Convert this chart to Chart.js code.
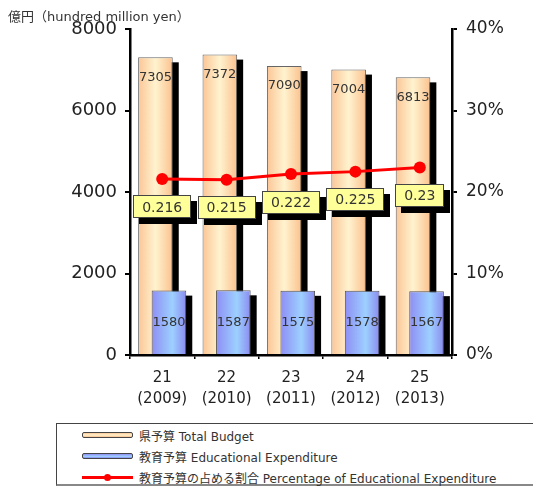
<!DOCTYPE html>
<html><head><meta charset="utf-8">
<script src="https://cdn.jsdelivr.net/npm/chart.js@4.4.1/dist/chart.umd.min.js"></script>
<style>
html,body{margin:0;padding:0;background:#fff;overflow:hidden;width:533px;height:488px;}
#wrap{position:relative;width:533px;height:488px;overflow:hidden;}
#c{position:absolute;left:0;top:0;}
#unit{position:absolute;left:8px;top:6px;font:13px 'DejaVu Sans','Noto Sans CJK JP',sans-serif;color:#333;white-space:nowrap;}
#legend{position:absolute;left:56px;top:423px;width:500px;height:60px;border:1px solid #444;border-bottom:2px solid #888;}
.row{position:absolute;left:25px;height:16px;display:flex;align-items:center;font:12px 'DejaVu Sans','Noto Sans CJK JP',sans-serif;color:#333;white-space:nowrap;}
.sw{width:51px;height:6px;border:1px solid #444;border-radius:2px;margin-right:6px;box-sizing:border-box;}
.lsw{position:relative;width:51px;height:16px;margin-right:6px;}
.lsw .ln{position:absolute;left:0;right:0;top:7px;height:3px;background:#ff0000;}
.lsw .dt{position:absolute;left:22px;top:5px;width:7px;height:7px;border-radius:50%;background:#ff0000;}
</style></head>
<body><div id="wrap">
<canvas id="c" width="533" height="420"></canvas>
<div id="unit">億円（hundred million yen）</div>
<div id="legend"></div>
</div>
<script>
const categories = [['21','(2009)'],['22','(2010)'],['23','(2011)'],['24','(2012)'],['25','(2013)']];
const totalBudget = [7305, 7372, 7090, 7004, 6813];
const eduExpenditure = [1580, 1587, 1575, 1578, 1567];
const eduShare = [0.216, 0.215, 0.222, 0.225, 0.23];
const seriesNames = ['県予算 Total Budget', '教育予算 Educational Expenditure', '教育予算の占める割合 Percentage of Educational Expenditure'];

const fam = "'DejaVu Sans','Noto Sans CJK JP',sans-serif";
const orangeStops = [[0,'#fbc596'],[0.5,'#fff3cf'],[1,'#fbc18e']];
const blueStops = [[0,'#8e8ef4'],[0.6,'#9dd0ff'],[1,'#8b8bf0']];

// legend (HTML)
(function(){
  const lg = document.getElementById('legend');
  const tops = [3, 24, 45];
  seriesNames.forEach((n, i) => {
    const r = document.createElement('div');
    r.className = 'row'; r.style.top = tops[i] + 'px';
    let sw;
    if (i < 2) {
      sw = document.createElement('div'); sw.className = 'sw';
      const st = i === 0 ? orangeStops : blueStops;
      sw.style.background = 'linear-gradient(to bottom,' + st.map(s => s[1] + ' ' + (s[0]*100) + '%').join(',') + ')';
    } else {
      sw = document.createElement('div'); sw.className = 'lsw';
      sw.innerHTML = '<div class="ln"></div><div class="dt"></div>';
    }
    r.appendChild(sw);
    const t = document.createElement('span'); t.textContent = n; r.appendChild(t);
    lg.appendChild(r);
  });
})();

function grad(ctx, l, r, stops){
  const g = ctx.createLinearGradient(l, 0, r, 0);
  stops.forEach(s => g.addColorStop(s[0], s[1]));
  return g;
}

const barFx = {
  id: 'barFx',
  beforeDatasetDraw(chart, args){
    if (args.index < 2) return false;
  },
  beforeDatasetsDraw(chart){
    const ctx = chart.ctx, a = chart.chartArea;
    [0, 1].forEach(di => {
      const meta = chart.getDatasetMeta(di);
      const stops = di === 0 ? orangeStops : blueStops;
      meta.data.forEach(el => {
        const p = el.getProps(['x','y','base','width'], true);
        const o = el.options;
        const l = p.x - p.width / 2;
        ctx.save();
        ctx.beginPath(); ctx.rect(a.left, a.top, a.right - a.left, a.bottom - a.top); ctx.clip();
        ctx.fillStyle = '#000';
        ctx.fillRect(l + 6, p.y + 5, p.width, p.base - p.y);
        el.options = Object.assign({}, o, {backgroundColor: grad(ctx, l, l + p.width, stops)});
        el.draw(ctx);
        el.options = o;
        ctx.restore();
      });
    });
  },
  afterDatasetsDraw(chart){
    const ctx = chart.ctx;
    ctx.save();
    ctx.textAlign = 'center'; ctx.textBaseline = 'middle';
    ctx.font = '13px ' + fam; ctx.fillStyle = '#333';
    chart.getDatasetMeta(0).data.forEach((el, i) => {
      ctx.fillText(String(totalBudget[i]), el.x, el.y + 20);
    });
    chart.getDatasetMeta(1).data.forEach((el, i) => {
      ctx.fillText(String(eduExpenditure[i]), el.x, (el.y + el.base) / 2);
    });
    ctx.font = '14px ' + fam;
    chart.getDatasetMeta(2).data.forEach((el, i) => {
      const txt = String(eduShare[i]);
      const w = Math.round(ctx.measureText(txt).width + 18), h = 23;
      const cx = el.x, cy = el.y + 28;
      const l = Math.round(cx - w/2), t = Math.round(cy - h/2);
      ctx.fillStyle = '#000'; ctx.fillRect(l + 6, t + 6, w, h);
      ctx.fillStyle = '#ffff99'; ctx.fillRect(l, t, w, h);
      ctx.strokeStyle = '#444'; ctx.lineWidth = 1; ctx.strokeRect(l + 0.5, t + 0.5, w - 1, h - 1);
      ctx.fillStyle = '#333'; ctx.fillText(txt, cx, cy + 1);
    });
    ctx.restore();
  }
};

new Chart(document.getElementById('c'), {
  data: {
    labels: categories,
    datasets: [
      {type: 'bar', label: seriesNames[0], data: totalBudget, yAxisID: 'y', order: 1,
       backgroundColor: '#fcd5a8', borderColor: '#666', borderWidth: 1,
       categoryPercentage: 0.42, barPercentage: 2.56},
      {type: 'bar', label: seriesNames[1], data: eduExpenditure, yAxisID: 'y', order: 2,
       backgroundColor: '#99aaff', borderColor: '#555', borderWidth: 1,
       categoryPercentage: 0.42, barPercentage: 2.56},
      {type: 'line', label: seriesNames[2], data: eduShare, yAxisID: 'y1', order: 0,
       borderColor: '#ff0000', backgroundColor: '#ff0000', borderWidth: 3,
       pointRadius: 6, pointBorderWidth: 0, pointBackgroundColor: '#ff0000', tension: 0}
    ]
  },
  options: {
    responsive: false,
    animation: false,
    layout: {padding: {top: 29, left: 0, right: 0, bottom: 0}},
    plugins: {legend: {display: false}, title: {display: false}, tooltip: {enabled: false}},
    scales: {
      x: {
        type: 'category', offset: true, z: 1,
        grid: {display: true, drawOnChartArea: false, drawTicks: true, tickLength: 4, color: '#000', lineWidth: 1.5},
        border: {display: true, color: '#000', width: 2.5},
        ticks: {font: {size: 15, family: fam, lineHeight: 1.4}, color: '#222', padding: 9, maxRotation: 0, autoSkip: false},
        afterFit(s){ s.height = 65; }
      },
      y: {
        type: 'linear', position: 'left', min: 0, max: 8000, z: 1,
        grid: {display: true, drawOnChartArea: false, drawTicks: true, tickLength: 5, color: '#000', lineWidth: 2},
        border: {display: true, color: '#000', width: 2.5},
        ticks: {stepSize: 2000, font: {size: 18, family: fam}, color: '#222', padding: 8,
                callback: v => String(v)},
        afterFit(s){ s.width = 130; }
      },
      y1: {
        type: 'linear', position: 'right', min: 0, max: 0.4, z: 1,
        grid: {display: true, drawOnChartArea: false, drawTicks: true, tickLength: 5, color: '#000', lineWidth: 2},
        border: {display: true, color: '#000', width: 2.5},
        ticks: {stepSize: 0.1, font: {size: 17, family: fam}, color: '#222', padding: 9,
                callback: v => Math.round(v * 100) + '%'},
        afterFit(s){ s.width = 81; }
      }
    }
  },
  plugins: [barFx]
});
</script>
</body></html>
